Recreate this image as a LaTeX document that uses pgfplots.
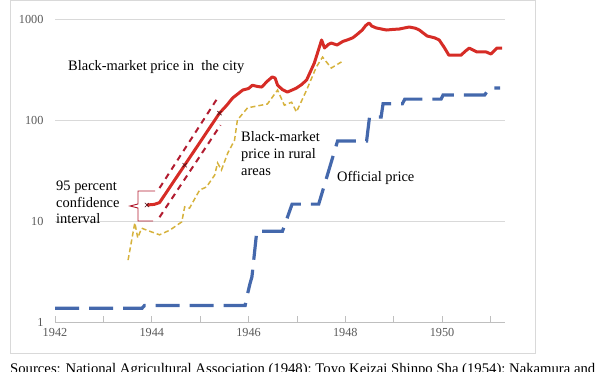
\documentclass[border=0pt]{standalone}
\usepackage{pgfplots}
\pgfplotsset{compat=1.18}
\usepackage{fontspec}
\setmainfont{Liberation Serif}
\definecolor{cityred}{RGB}{214,44,38}
\definecolor{cired}{RGB}{178,28,48}
\definecolor{ruralyel}{RGB}{214,178,60}
\definecolor{offblue}{RGB}{68,104,172}
\definecolor{gridgray}{RGB}{217,217,217}
\definecolor{axgray}{RGB}{191,191,191}
\definecolor{ticklab}{RGB}{89,89,89}
\begin{document}
\begin{tikzpicture}[x=1bp,y=1bp]
\path[use as bounding box] (0,0) rectangle (600,371);
\clip (0,0) rectangle (600,371);
\draw[gridgray, line width=0.8bp] (10.5,370.5) rectangle (535,18);
\begin{axis}[
  at={(55bp,49bp)}, anchor=south west,
  scale only axis, width=450bp, height=303bp,
  xmin=1942, xmax=1951.3,
  ymode=log, ymin=1, ymax=1000,
  axis x line*=bottom, axis y line*=left,
  x axis line style={axgray, line width=0.8bp},
  y axis line style={draw=none},
  xtick={1942,1944,1946,1948,1950},
  minor xtick={1943,1945,1947,1949,1951},
  tick align=inside,
  major tick length=6bp, minor tick length=6bp,
  xtick style={axgray, line width=0.8bp},
  minor tick style={axgray, line width=0.8bp},
  ytick={1,10,100,1000}, yticklabels={1,10,100,1000},
  ytick style={draw=none},
  ymajorgrids, major grid style={gridgray, line width=0.8bp},
  /pgf/number format/assume math mode=true,
  x tick label style={/pgf/number format/1000 sep={}, font=\fontsize{12.3}{12.3}\selectfont, text=ticklab, yshift=-3bp},
  y tick label style={font=\fontsize{12.3}{12.3}\selectfont, text=ticklab, xshift=-8bp},
  clip=false,
]
% official price
\addplot[offblue, line width=3.2bp, dash pattern=on 24bp off 10bp] coordinates {
(1942.00,1.37) (1943.80,1.37) (1943.85,1.46) (1945.93,1.46) (1945.98,1.9)
(1946.03,2.4) (1946.07,2.8) (1946.17,7.9) (1946.70,7.9) (1946.90,14.7)
(1947.45,14.7) (1947.84,62) (1948.44,62) (1948.50,107) (1948.74,107)
(1948.78,145) (1949.18,145) (1949.23,161) (1949.98,161) (1950.02,177)
(1950.88,177) (1950.98,207) (1951.20,207)
};
% rural black-market
\addplot[ruralyel, line width=1.5bp, dash pattern=on 5bp off 3bp] coordinates {
(1943.51,4.1) (1943.65,9.6) (1943.71,6.8) (1943.79,8.5) (1943.90,8.1)
(1944.16,7.3) (1944.37,8.1) (1944.62,9.8) (1944.68,13.8) (1944.78,13.4)
(1944.99,20.3) (1945.13,21.7) (1945.30,28.5) (1945.36,37.5) (1945.44,32)
(1945.57,47) (1945.71,63) (1945.77,100) (1945.98,132) (1946.29,141)
(1946.39,144) (1946.60,198) (1946.74,140) (1946.89,150) (1946.99,120)
(1947.20,198) (1947.40,334) (1947.53,420) (1947.71,327) (1947.92,376)
};
% confidence interval
\addplot[cired, line width=2bp, dash pattern=on 6bp off 5bp] coordinates {
(1944.16,21.2) (1945.36,165)
};
\addplot[cired, line width=2bp, dash pattern=on 6bp off 5bp] coordinates {
(1944.16,10.9) (1945.42,89)
};
% city black-market
\addplot[cityred, line width=3bp, line join=round] coordinates {
(1943.90,14.4) (1944.05,14.6) (1944.16,15.2) (1945.40,117) (1945.55,140)
(1945.67,165) (1945.88,198) (1946.00,205) (1946.08,221) (1946.18,215)
(1946.27,212) (1946.40,245) (1946.49,267) (1946.55,260) (1946.60,221)
(1946.70,200) (1946.80,189) (1946.90,198) (1946.99,207) (1947.10,225)
(1947.20,249) (1947.36,367) (1947.51,620) (1947.57,516) (1947.65,560)
(1947.71,578) (1947.83,553) (1947.95,600) (1948.04,620) (1948.15,650)
(1948.23,695) (1948.35,778) (1948.42,860) (1948.49,913) (1948.55,850)
(1948.64,815) (1948.85,778) (1949.00,790) (1949.11,795) (1949.32,833)
(1949.45,810) (1949.53,778) (1949.69,679) (1949.85,650) (1949.94,620)
(1950.04,527) (1950.14,438) (1950.39,438) (1950.48,480) (1950.56,515)
(1950.72,472) (1950.91,472) (1951.01,450) (1951.13,515) (1951.24,515)
};
\addplot[only marks, mark=x, mark size=3bp, color=black!55!cired, mark options={line width=0.6bp}] coordinates {
(1943.90,14.4) (1944.68,35.7) (1945.40,117)
};
\end{axis}
% bracket
\draw[cired, line width=0.9bp] (155,180) -- (138,180) -- (138,167) -- (130,165) -- (138,163) -- (138,150) -- (153,150);
% annotations
\begin{scope}[every node/.style={inner sep=0pt, align=left, anchor=north west, font=\fontsize{14.5}{16.8}\selectfont}]
\node at (68,310.3) {Black-market price in\ \ the city};
\node at (241,239.5) {Black-market\\price in rural\\areas};
\node at (337,199.5) {Official price};
\node at (56,190.3) {95 percent\\confidence\\interval};
\node[font=\fontsize{14.75}{17}\selectfont] at (10,8) {Sources: National Agricultural Association (1948); Toyo Keizai Shinpo Sha (1954); Nakamura and};
\end{scope}
\end{tikzpicture}
\end{document}
